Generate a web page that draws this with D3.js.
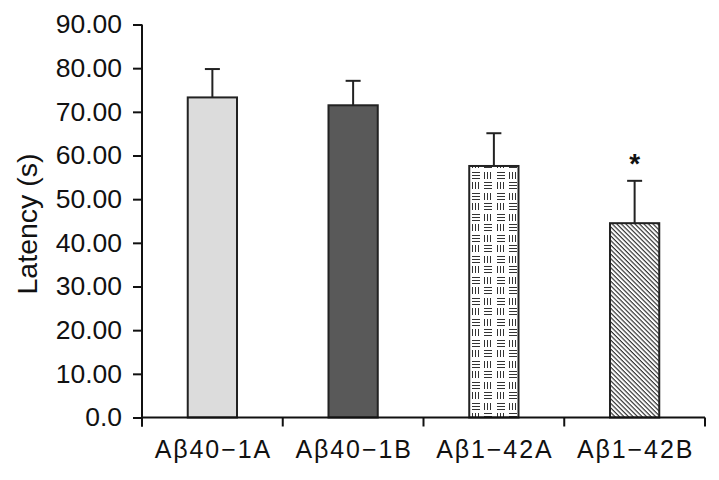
<!DOCTYPE html>
<html>
<head>
<meta charset="utf-8">
<script src="https://cdn.jsdelivr.net/npm/d3@7"></script>
<style>
  body { margin: 0; background: #fff; }
  svg { display: block; }
  text { font-family: "Liberation Sans", Arial, sans-serif; fill: #111; }
</style>
</head>
<body>
<div id="chart"></div>
<script>
// data
const categories = ["Aβ40−1A", "Aβ40−1B", "Aβ1−42A", "Aβ1−42B"];
const means = [73.3, 71.5, 57.6, 44.5];
const errors = [6.5, 5.6, 7.5, 9.7];
const marks = ["", "", "", "*"];
const yTicks = [0, 10, 20, 30, 40, 50, 60, 70, 80, 90];
const yTickLabels = ["0.0", "10.00", "20.00", "30.00", "40.00", "50.00", "60.00", "70.00", "80.00", "90.00"];
const fills = ["#dcdcdc", "#595959", "url(#weave)", "url(#hatch)"];

const width = 719, height = 480;
const margin = { left: 142, right: 14, top: 24.5, bottom: 62.5 };

const svg = d3.select("#chart").append("svg")
    .attr("width", width)
    .attr("height", height);

const defs = svg.append("defs");

// diagonal hatch (top-left to bottom-right) for the last bar
const hatch = defs.append("pattern")
    .attr("id", "hatch")
    .attr("patternUnits", "userSpaceOnUse")
    .attr("width", 3.2)
    .attr("height", 3.2)
    .attr("patternTransform", "rotate(45)");
hatch.append("rect").attr("width", 3.2).attr("height", 3.2).attr("fill", "#fff");
hatch.append("line")
    .attr("x1", 0).attr("y1", 0.6).attr("x2", 3.2).attr("y2", 0.6)
    .attr("stroke", "#222").attr("stroke-width", 1.1);

// basket-weave pattern for the third bar
const weave = defs.append("pattern")
    .attr("id", "weave")
    .attr("patternUnits", "userSpaceOnUse")
    .attr("x", 470)
    .attr("y", 2)
    .attr("width", 25)
    .attr("height", 21);
weave.append("rect").attr("width", 25).attr("height", 21).attr("fill", "#fff");
const blocks = [
    { x: 2, y: 2, dir: "h" }, { x: 14, y: 2, dir: "v" },
    { x: 2, y: 12, dir: "v" }, { x: 14, y: 12, dir: "h" }
];
blocks.forEach(b => {
    for (let i = 0; i < 3; i++) {
        if (b.dir === "h") {
            weave.append("line")
                .attr("x1", b.x).attr("x2", b.x + 8)
                .attr("y1", b.y + 0.5 + i * 3).attr("y2", b.y + 0.5 + i * 3)
                .attr("stroke", "#333").attr("stroke-width", 1);
        } else {
            weave.append("line")
                .attr("y1", b.y).attr("y2", b.y + 7)
                .attr("x1", b.x + 0.5 + i * 3).attr("x2", b.x + 0.5 + i * 3)
                .attr("stroke", "#333").attr("stroke-width", 1);
        }
    }
});

const x = d3.scaleBand()
    .domain(categories)
    .range([margin.left, width - margin.right])
    .paddingInner(0.65)
    .paddingOuter(0.325);

const y = d3.scaleLinear()
    .domain([0, 90])
    .range([height - margin.bottom, margin.top]);

// bars
svg.append("g").selectAll("rect")
    .data(categories)
    .join("rect")
    .attr("x", d => x(d))
    .attr("y", (d, i) => y(means[i]))
    .attr("width", x.bandwidth())
    .attr("height", (d, i) => y(0) - y(means[i]))
    .attr("fill", (d, i) => fills[i])
    .attr("stroke", "#222")
    .attr("stroke-width", 2);

// error bars (upper only)
const err = svg.append("g").attr("stroke", "#222").attr("stroke-width", 2);
categories.forEach((c, i) => {
    const cx = x(c) + x.bandwidth() / 2;
    err.append("line")
        .attr("x1", cx).attr("x2", cx)
        .attr("y1", y(means[i])).attr("y2", y(means[i] + errors[i]));
    err.append("line")
        .attr("x1", cx - 7.5).attr("x2", cx + 7.5)
        .attr("y1", y(means[i] + errors[i])).attr("y2", y(means[i] + errors[i]));
});

// significance marks
svg.append("g").selectAll("text")
    .data(categories)
    .join("text")
    .attr("x", d => x(d) + x.bandwidth() / 2)
    .attr("y", (d, i) => y(means[i] + errors[i]) - 8)
    .attr("text-anchor", "middle")
    .style("font-size", "28px")
    .style("font-weight", "bold")
    .text((d, i) => marks[i]);

// y axis
const yAxis = svg.append("g")
    .attr("transform", `translate(${margin.left},0)`)
    .call(d3.axisLeft(y).tickValues(yTicks).tickSize(9).tickPadding(11)
        .tickFormat((d, i) => yTickLabels[i]));
yAxis.select(".domain").attr("d", `M0,${margin.top}V${y(0) + 9}`);
yAxis.selectAll("line, path").attr("stroke", "#111").attr("stroke-width", 2);
yAxis.selectAll("text")
    .attr("font-family", null)
    .attr("font-size", null)
    .style("font-size", "26.5px")
    .attr("fill", "#111");

// x axis with ticks at band edges
const xAxis = svg.append("g")
    .attr("transform", `translate(0,${y(0)})`);
const step = x.step();
const edges = d3.range(categories.length + 1).map(i => margin.left + i * step);
xAxis.append("line")
    .attr("x1", margin.left).attr("x2", edges[edges.length - 1])
    .attr("y1", 0).attr("y2", 0);
xAxis.selectAll(".edge")
    .data(edges)
    .join("line")
    .attr("class", "edge")
    .attr("x1", d => d).attr("x2", d => d)
    .attr("y1", 0).attr("y2", 9);
xAxis.selectAll("line").attr("stroke", "#111").attr("stroke-width", 2);
xAxis.selectAll(".lbl")
    .data(categories)
    .join("text")
    .attr("class", "lbl")
    .attr("x", d => x(d) + x.bandwidth() / 2 + 1)
    .attr("y", 40.5)
    .attr("text-anchor", "middle")
    .style("font-size", "25px")
    .style("letter-spacing", "1.9px")
    .text(d => d);

// y label
svg.append("text")
    .attr("transform", `translate(37,224)rotate(-90)`)
    .attr("text-anchor", "middle")
    .style("font-size", "28.5px")
    .text("Latency (s)");
</script>
</body>
</html>
